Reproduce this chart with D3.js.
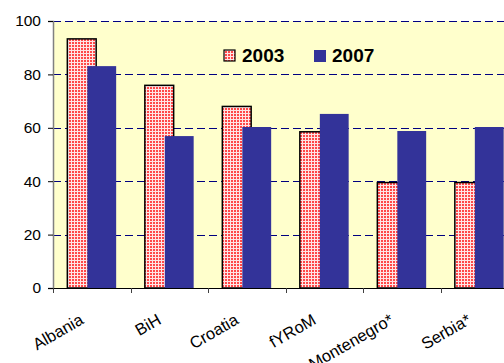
<!DOCTYPE html>
<html>
<head>
<meta charset="utf-8">
<script src="https://cdn.jsdelivr.net/npm/d3@7"></script>
<style>
  html, body { margin: 0; padding: 0; background: #fff; }
  svg { display: block; font-family: "Liberation Sans", Arial, sans-serif; }
</style>
</head>
<body>
<svg id="chart" width="504" height="363"></svg>
<script>
// Categories and values for the two survey years
const countries = ["Albania", "BiH", "Croatia", "fYRoM", "Montenegro*", "Serbia*"];
const values2003 = [93.3, 75.9, 68, 58.5, 39.5, 39.5];
const values2007 = [83.1, 56.9, 60.3, 65.2, 58.8, 60.3];
const yTicks = [0, 20, 40, 60, 80, 100];
const seriesNames = ["2003", "2007"];

const svg = d3.select("#chart");
const plotLeft = 53, plotTop = 21, plotBottom = 288;
const bandW = 77.5;
const plotRight = plotLeft + bandW * countries.length;

const x = d3.scaleBand().domain(countries).range([plotLeft, plotRight]).paddingInner(0).paddingOuter(0);
const y = d3.scaleLinear().domain([0, 100]).range([plotBottom, plotTop]);

// Dotted fill for the 2003 bars
const defs = svg.append("defs");
const pat = defs.append("pattern")
  .attr("id", "dots").attr("patternUnits", "userSpaceOnUse")
  .attr("width", 3).attr("height", 3);
pat.append("rect").attr("width", 3).attr("height", 3).attr("fill", "#ffe4e4");
pat.append("rect").attr("x", 0).attr("y", 0).attr("width", 2).attr("height", 2).attr("fill", "#ff4848");

// Plot background
svg.append("rect")
  .attr("x", plotLeft).attr("y", plotTop)
  .attr("width", plotRight - plotLeft).attr("height", plotBottom - plotTop)
  .attr("fill", "#FFFFCC");

// Dashed gridlines
svg.append("g").selectAll("line")
  .data(yTicks.filter(d => d > 0))
  .join("line")
  .attr("x1", plotLeft).attr("x2", plotRight)
  .attr("y1", d => Math.round(y(d)) + 0.5).attr("y2", d => Math.round(y(d)) + 0.5)
  .attr("stroke", "#000080").attr("stroke-width", 1)
  .attr("stroke-dasharray", "8,4");

const bw = x.bandwidth() * 0.372;
const off03 = x.bandwidth() * 0.185;
const off07 = x.bandwidth() * 0.443;

// 2003 bars
svg.append("g").selectAll("rect")
  .data(countries)
  .join("rect")
  .attr("x", (d) => x(d) + off03)
  .attr("y", (d, i) => y(values2003[i]))
  .attr("width", bw)
  .attr("height", (d, i) => y(0) - y(values2003[i]))
  .attr("fill", "url(#dots)")
  .attr("stroke", "#000").attr("stroke-width", 1.5);

// 2007 bars
svg.append("g").selectAll("rect")
  .data(countries)
  .join("rect")
  .attr("x", (d) => x(d) + off07)
  .attr("y", (d, i) => y(values2007[i]))
  .attr("width", bw)
  .attr("height", (d, i) => y(0) - y(values2007[i]))
  .attr("fill", "#333399");

// Y axis
const yAxis = d3.axisLeft(y).tickValues(yTicks).tickSize(5).tickPadding(7);
const gy = svg.append("g").attr("transform", `translate(${plotLeft},0)`).call(yAxis);
gy.select(".domain").attr("stroke", "#808080").attr("stroke-width", 1.5);
gy.selectAll(".tick line").attr("stroke", "#000");
gy.selectAll(".tick text").attr("font-size", 15.5).attr("fill", "#000")
  .attr("font-family", "'Liberation Sans', Arial, sans-serif");

// X axis baseline and category ticks
svg.append("line")
  .attr("x1", plotLeft).attr("x2", plotRight)
  .attr("y1", plotBottom + 0.5).attr("y2", plotBottom + 0.5)
  .attr("stroke", "#000").attr("stroke-width", 1.2);
svg.append("g").selectAll("line")
  .data(d3.range(countries.length + 1))
  .join("line")
  .attr("x1", i => Math.round(plotLeft + i * bandW) + 0.5)
  .attr("x2", i => Math.round(plotLeft + i * bandW) + 0.5)
  .attr("y1", plotBottom).attr("y2", plotBottom + 5)
  .attr("stroke", "#404040");

// Rotated category labels
svg.append("g").selectAll("text")
  .data(countries)
  .join("text")
  .attr("transform", d => `translate(${x(d) + x.bandwidth() / 2 - 7},${plotBottom + 35}) rotate(-30)`)
  .attr("text-anchor", "end")
  .attr("font-size", 16.5)
  .attr("fill", "#000")
  .text(d => d);

// Legend
const legend = svg.append("g");
const legendX = [224, 314];
legend.append("rect")
  .attr("x", legendX[0]).attr("y", 50).attr("width", 11).attr("height", 11)
  .attr("fill", "url(#dots)").attr("stroke", "#000").attr("stroke-width", 1.2);
legend.append("rect")
  .attr("x", legendX[1]).attr("y", 50).attr("width", 12).attr("height", 12)
  .attr("fill", "#333399");
legend.selectAll("text")
  .data(seriesNames)
  .join("text")
  .attr("x", (d, i) => legendX[i] + 18)
  .attr("y", 62)
  .attr("font-size", 19).attr("font-weight", "bold").attr("fill", "#000")
  .text(d => d);
</script>
</body>
</html>
